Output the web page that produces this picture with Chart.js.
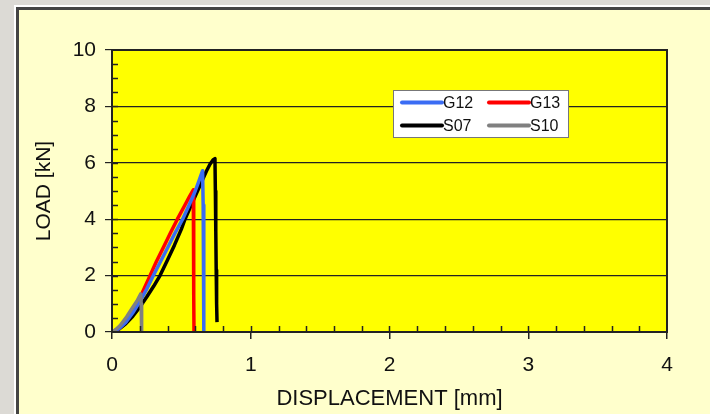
<!DOCTYPE html>
<html>
<head>
<meta charset="utf-8">
<script src="https://cdn.jsdelivr.net/npm/chart.js@4"></script>
<style>
body{margin:0;background:#dcdad5;width:710px;height:414px;overflow:hidden;position:relative}
#edge{position:absolute;left:14px;top:5px;width:720px;height:430px;border-left:2px solid #fff;border-top:2px solid #fff}
#frame{position:absolute;left:0;top:0;right:0;bottom:0;border-left:3px solid #444;border-top:3px solid #444;background:#ffffcc}
#c{position:absolute;left:0;top:0}
</style>
</head>
<body>
<div id="edge"><div id="frame"></div></div>
<canvas id="c" width="710" height="414"></canvas>
<script>
// series labels
const names = ["G12","G13","S07","S10"]
const colors = ["#3a6cf4","#ff0000","#000000","#808080"]

// displacement [mm] / load [kN]
const g12X = [0,0.05,0.1,0.15,0.2,0.25,0.298,0.35,0.4,0.45,0.509,0.56,0.6,0.63,0.653,0.657,0.66,0.662,0.663]
const g12Y = [0,0.12,0.35,0.68,1.08,1.52,2.0,2.5,2.98,3.47,4.0,4.55,5.0,5.4,5.72,4.5,3.0,1.5,0]

const g13X = [0,0.05,0.1,0.15,0.2,0.274,0.32,0.37,0.42,0.471,0.52,0.56,0.586,0.588,0.589,0.59,0.591]
const g13Y = [0,0.12,0.38,0.75,1.2,2.0,2.5,3.0,3.5,4.0,4.45,4.82,5.04,4.0,2.7,1.3,0]

const s07X = [0,0.05,0.1,0.15,0.2,0.25,0.3,0.346,0.4,0.45,0.5,0.526,0.58,0.63,0.68,0.706,0.728,0.742,0.745,0.748,0.751,0.754,0.757]
const s07Y = [0,0.1,0.3,0.56,0.88,1.24,1.62,2.0,2.55,3.08,3.65,4.0,4.6,5.15,5.7,5.95,6.1,6.15,5.0,3.6,2.2,1.0,0.35]

const s10X = [0,0.03,0.06,0.106,0.15,0.18,0.207,0.21,0.212,0.214,0.215]
const s10Y = [0,0.1,0.24,0.54,0.88,1.1,1.35,1.0,0.6,0.25,0]

const xTicks = [0,1,2,3,4]
const yTicks = [0,2,4,6,8,10]

function pts(xs, ys){ return xs.map((x,i)=>({x:x,y:ys[i]})) }

const series = [pts(g12X,g12Y), pts(g13X,g13Y), pts(s07X,s07Y), pts(s10X,s10Y)]
const drawOrder = [1,2,3,0]

Chart.defaults.font.family = "'Liberation Sans', Arial, sans-serif"
Chart.defaults.color = "#111"

const plotBox = {
  id:"plotBox",
  beforeDraw(chart){
    const a = chart.chartArea, ctx = chart.ctx
    ctx.save()
    ctx.fillStyle = "#ffff00"
    ctx.fillRect(a.left, a.top, a.right-a.left, a.bottom-a.top)
    ctx.restore()
  },
  afterDraw(chart){
    const a = chart.chartArea, ctx = chart.ctx
    const xs = chart.scales.x, ys = chart.scales.y
    ctx.save()
    ctx.strokeStyle = "#222"
    ctx.lineWidth = 2
    ctx.strokeRect(a.left, a.top, a.right-a.left, a.bottom-a.top)
    // minor ticks
    ctx.lineWidth = 1.5
    ctx.beginPath()
    for(let v=0.2; v<4; v+=0.2){
      const px = Math.round(xs.getPixelForValue(v))+0.5
      ctx.moveTo(px, a.bottom)
      ctx.lineTo(px, a.bottom-6)
    }
    for(let v=0.5; v<10; v+=0.5){
      const py = Math.round(ys.getPixelForValue(v))+0.5
      ctx.moveTo(a.left, py)
      ctx.lineTo(a.left+6, py)
    }
    ctx.stroke()

    // legend box
    const bx = 393, by = 90, bw = 175, bh = 47
    ctx.fillStyle = "#fff"
    ctx.fillRect(bx, by, bw, bh)
    ctx.strokeStyle = "#777"
    ctx.lineWidth = 1
    ctx.strokeRect(bx+0.5, by+0.5, bw, bh)
    const cols = [402, 489], rows = [102.5, 125.5]
    ctx.font = "16px 'Liberation Sans', Arial, sans-serif"
    ctx.textBaseline = "middle"
    ctx.lineCap = "round"
    chart.data.datasets.forEach((d,i)=>{
      const x = cols[i%2], y = rows[Math.floor(i/2)]
      ctx.strokeStyle = d.borderColor
      ctx.lineWidth = 4
      ctx.beginPath()
      ctx.moveTo(x, y)
      ctx.lineTo(x+40, y)
      ctx.stroke()
      ctx.fillStyle = "#111"
      ctx.fillText(d.label, x+41, y+1)
    })
    ctx.restore()
  }
}

new Chart(document.getElementById("c"),{
  type:"scatter",
  data:{
    datasets: names.map((n,i)=>({
      label:n,
      data:series[i],
      showLine:true,
      borderColor:colors[i],
      backgroundColor:colors[i],
      borderWidth:3.5,
      pointRadius:0,
      tension:0,
      borderJoinStyle:"round",
      order:drawOrder[i]
    }))
  },
  options:{
    responsive:false,
    animation:false,
    layout:{padding:{left:0,right:43,top:50,bottom:0}},
    plugins:{legend:{display:false},tooltip:{enabled:false}},
    scales:{
      x:{
        type:"linear",min:0,max:4,
        afterBuildTicks(s){ s.ticks = xTicks.map(v=>({value:v})) },
        afterFit(s){ s.height = 82 },
        grid:{drawOnChartArea:false,drawTicks:true,tickLength:7,color:"#222",lineWidth:1.5},
        border:{color:"#222",width:2},
        ticks:{font:{size:21},padding:14,color:"#111"},
        title:{display:true,text:"DISPLACEMENT [mm]",font:{size:22},padding:{top:0,bottom:2},color:"#111"}
      },
      y:{
        type:"linear",min:0,max:10,
        afterBuildTicks(s){ s.ticks = yTicks.map(v=>({value:v})) },
        afterFit(s){ s.width = 112 },
        grid:{color:"#222",lineWidth:1.2,tickLength:7},
        border:{color:"#222",width:2},
        ticks:{font:{size:21},padding:9,color:"#111"},
        title:{display:true,text:"LOAD [kN]",font:{size:21},padding:{top:32,bottom:0},color:"#111"}
      }
    }
  },
  plugins:[plotBox]
})
</script>
</body>
</html>
